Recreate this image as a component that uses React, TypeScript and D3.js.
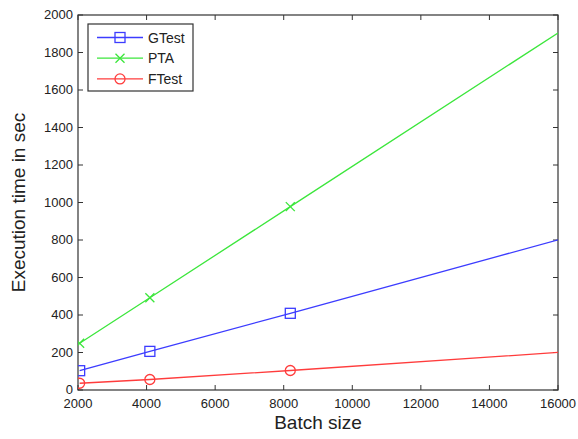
import { useEffect, useRef } from 'react'
import * as d3 from 'd3'

const batchSizes = [2048, 4096, 8192, 16384]
const gtest = [103, 206, 409, 820]
const pta = [249, 492, 978, 1950]
const ftest = [36, 56, 104, 205]
const xTicks = [2000, 4000, 6000, 8000, 10000, 12000, 14000, 16000]
const yTicks = [0, 200, 400, 600, 800, 1000, 1200, 1400, 1600, 1800, 2000]

const series = [
  { name: 'GTest', values: gtest, color: '#3c3cff', marker: 'square' },
  { name: 'PTA', values: pta, color: '#3ce63c', marker: 'cross' },
  { name: 'FTest', values: ftest, color: '#ff3c3c', marker: 'circle' }
]

const W = 578
const H = 439
const margin = { left: 78, right: 20, top: 15, bottom: 49 }

const App = () => {
  const ref = useRef<SVGSVGElement>(null)

  useEffect(() => {
    const svg = d3.select(ref.current)
    svg.selectAll('*').remove()

    const x = d3.scaleLinear().domain([2000, 16000]).range([margin.left, W - margin.right])
    const y = d3.scaleLinear().domain([0, 2000]).range([H - margin.bottom, margin.top])
    const font = 'Liberation Sans, Arial, sans-serif'
    const axisColor = '#333'
    const tickLen = 5

    svg.append('rect').attr('width', W).attr('height', H).attr('fill', '#fff')

    svg.append('clipPath').attr('id', 'plot-clip')
      .append('rect')
      .attr('x', x(2000)).attr('y', y(2000))
      .attr('width', x(16000) - x(2000)).attr('height', y(0) - y(2000))

    // box
    svg.append('rect')
      .attr('x', x(2000)).attr('y', y(2000))
      .attr('width', x(16000) - x(2000)).attr('height', y(0) - y(2000))
      .attr('fill', 'none').attr('stroke', axisColor).attr('stroke-width', 1.2)

    // ticks inside, on all four sides
    const tg = svg.append('g').attr('stroke', axisColor).attr('stroke-width', 1)
    xTicks.forEach((t) => {
      tg.append('line').attr('x1', x(t)).attr('x2', x(t)).attr('y1', y(0)).attr('y2', y(0) - tickLen)
      tg.append('line').attr('x1', x(t)).attr('x2', x(t)).attr('y1', y(2000)).attr('y2', y(2000) + tickLen)
    })
    yTicks.forEach((t) => {
      tg.append('line').attr('x1', x(2000)).attr('x2', x(2000) + tickLen).attr('y1', y(t)).attr('y2', y(t))
      tg.append('line').attr('x1', x(16000)).attr('x2', x(16000) - tickLen).attr('y1', y(t)).attr('y2', y(t))
    })

    svg.append('g').selectAll('text').data(xTicks).enter().append('text')
      .attr('x', (d) => x(d)).attr('y', y(0) + 18)
      .attr('text-anchor', 'middle')
      .attr('font-family', font).attr('font-size', 13).attr('fill', '#222')
      .text((d) => d)

    svg.append('g').selectAll('text').data(yTicks).enter().append('text')
      .attr('x', x(2000) - 5).attr('y', (d) => y(d) + 4)
      .attr('text-anchor', 'end')
      .attr('font-family', font).attr('font-size', 13).attr('fill', '#222')
      .text((d) => d)

    svg.append('text')
      .attr('x', (x(2000) + x(16000)) / 2).attr('y', H - 10)
      .attr('text-anchor', 'middle')
      .attr('font-family', font).attr('font-size', 19).attr('fill', '#222')
      .text('Batch size')

    svg.append('text')
      .attr('transform', `translate(25, ${(y(0) + y(2000)) / 2}) rotate(-90)`)
      .attr('text-anchor', 'middle')
      .attr('font-family', font).attr('font-size', 19).attr('fill', '#222')
      .text('Execution time in sec')

    const drawMarker = (g: any, kind: string, cx: number, cy: number, color: string) => {
      if (kind === 'square') {
        g.append('rect').attr('x', cx - 5).attr('y', cy - 5).attr('width', 10).attr('height', 10)
          .attr('fill', 'none').attr('stroke', color).attr('stroke-width', 1.3)
      } else if (kind === 'circle') {
        g.append('circle').attr('cx', cx).attr('cy', cy).attr('r', 5)
          .attr('fill', 'none').attr('stroke', color).attr('stroke-width', 1.3)
      } else {
        g.append('path').attr('d', `M${cx - 4.5},${cy - 4.5}L${cx + 4.5},${cy + 4.5}M${cx - 4.5},${cy + 4.5}L${cx + 4.5},${cy - 4.5}`)
          .attr('stroke', color).attr('stroke-width', 1.3)
      }
    }

    const plot = svg.append('g').attr('clip-path', 'url(#plot-clip)')
    const line = d3.line<number>().x((_, i) => x(batchSizes[i])).y((d) => y(d))
    series.forEach((s) => {
      plot.append('path').attr('d', line(s.values)).attr('fill', 'none')
        .attr('stroke', s.color).attr('stroke-width', 1.3)
      s.values.forEach((v, i) => drawMarker(plot, s.marker, x(batchSizes[i]), y(v), s.color))
    })

    // legend
    const lg = svg.append('g')
    lg.append('rect').attr('x', 88).attr('y', 24).attr('width', 105).attr('height', 67)
      .attr('fill', '#fff').attr('stroke', axisColor).attr('stroke-width', 1.2)
    series.forEach((s, i) => {
      const ly = 37.5 + i * 20.7
      lg.append('line').attr('x1', 97).attr('x2', 143).attr('y1', ly).attr('y2', ly)
        .attr('stroke', s.color).attr('stroke-width', 1.3)
      drawMarker(lg, s.marker, 120, ly, s.color)
      lg.append('text').attr('x', 148).attr('y', ly + 5)
        .attr('font-family', font).attr('font-size', 14).attr('fill', '#222')
        .text(s.name)
    })
  }, [])

  return (
    <svg
      ref={ref}
      width={W}
      height={H}
      style={{ position: 'absolute', left: 0, top: 0, display: 'block' }}
    />
  )
}

export default App
